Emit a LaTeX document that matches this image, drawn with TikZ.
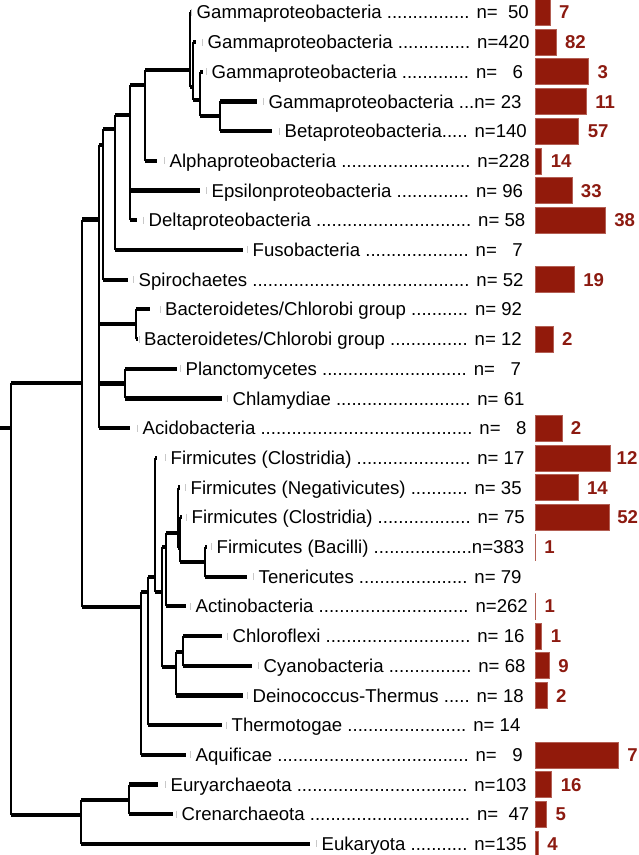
\documentclass[tikz,border=0pt]{standalone}
\usepackage{fontspec}
\setmainfont{Liberation Sans}
\usepackage{xcolor}
\usetikzlibrary{positioning}
\definecolor{barred}{HTML}{921A0B}
\definecolor{countred}{HTML}{8C1A10}
\definecolor{markgray}{HTML}{C8C8C8}
\tikzset{
  branch/.style   = {line width=4.2pt, draw=black},
  riser/.style    = {line width=2pt, draw=black},
  leafmark/.style = {draw=markgray, line width=1pt},
  taxon/.style    = {anchor=west, inner sep=0pt, text height=13.2pt, text depth=0pt,
                     font=\fontsize{18.6pt}{22pt}\selectfont},
  ratebar/.style  = {anchor=west, inner sep=0pt, outer sep=0pt, minimum height=26pt,
                     fill=barred, draw=barred!70!white, line width=0.5pt},
  hitcount/.style = {inner sep=0pt, text height=13.2pt, text depth=0pt, text=countred,
                     font=\fontsize{18.6pt}{22pt}\selectfont\bfseries},
}
\newcommand{\twig}[2]{%
  \draw[riser] (#1) -- (#1 |- #2);
  \draw[branch] (#1 |- #2) -- (#2);}

\begin{document}
\begin{tikzpicture}[x=1pt, y=-1pt]
    \useasboundingbox (0,0) rectangle (638,855);
    % leaf tips
    \coordinate (gam1)   at (191,12.3);
    \coordinate (gam2)   at (196,42.0);
    \coordinate (gam3)   at (203,71.7);
    \coordinate (gam4)   at (257,101.4);
    \coordinate (beta)   at (272,131.1);
    \coordinate (alpha)  at (157,160.8);
    \coordinate (eps)    at (200,190.5);
    \coordinate (delta)  at (137,220.2);
    \coordinate (fuso)   at (243,249.9);
    \coordinate (spiro)  at (128,279.6);
    \coordinate (bac1)   at (150,309.3);
    \coordinate (bac2)   at (137.5,339.0);
    \coordinate (planc)  at (177,368.7);
    \coordinate (chlam)  at (222,398.4);
    \coordinate (acido)  at (130,428.1);
    \coordinate (firc1)  at (157,457.8);
    \coordinate (firn)   at (179.5,487.5);
    \coordinate (firc2)  at (182,517.2);
    \coordinate (firb)   at (207,546.9);
    \coordinate (tener)  at (247,576.6);
    \coordinate (actino) at (186,606.3);
    \coordinate (chloro) at (222,636.0);
    \coordinate (cyano)  at (252,665.7);
    \coordinate (deino)  at (243,695.4);
    \coordinate (thermo) at (222,725.1);
    \coordinate (aquif)  at (186,754.8);
    \coordinate (eury)   at (158,784.5);
    \coordinate (cren)   at (173,814.2);
    \coordinate (euk)    at (310,843.9);
    % inner nodes, where the stem meets them
    \coordinate (gA)   at (220,116.3);
    \coordinate (gB)   at (200,100);
    \coordinate (gC)   at (193,87);
    \coordinate (gD)   at (190,70);
    \coordinate (pE)   at (145,85);
    \coordinate (pF)   at (130,115);
    \coordinate (nG)   at (115,129);
    \coordinate (nH)   at (103,145);
    \coordinate (nBC)  at (136,324.2);
    \coordinate (nPC)  at (125,383.5);
    \coordinate (nI)   at (99,219.5);
    \coordinate (nK)   at (82,383);
    \coordinate (nL)   at (141,607);
    \coordinate (nM)   at (148,592);
    \coordinate (nN)   at (155,577);
    \coordinate (nO)   at (162,592);
    \coordinate (nP)   at (166,547);
    \coordinate (nQ)   at (178,533);
    \coordinate (nQQ)  at (180,548);
    \coordinate (nR)   at (205,562);
    \coordinate (nS)   at (176,667);
    \coordinate (nT)   at (183,652);
    \coordinate (nV)   at (129,800);
    \coordinate (nU)   at (81,815);
    \coordinate (root) at (11,428);
    \coordinate (base) at (0,428);

    % branches
    \twig{gA}{gam4} \twig{gA}{beta}
    \twig{gB}{gam3} \twig{gB}{gA}
    \twig{gC}{gam2} \twig{gC}{gB}
    \twig{gD}{gam1} \twig{gD}{gC}
    \twig{pE}{gD} \twig{pE}{alpha}
    \twig{pF}{pE} \twig{pF}{eps} \twig{pF}{delta}
    \twig{nG}{pF} \twig{nG}{fuso}
    \twig{nH}{nG} \twig{nH}{spiro}
    \twig{nBC}{bac1} \twig{nBC}{bac2}
    \twig{nPC}{planc} \twig{nPC}{chlam}
    \twig{nI}{nH} \twig{nI}{nBC} \twig{nI}{nPC} \twig{nI}{acido}
    \twig{nK}{nI} \twig{nK}{nL}
    \twig{nL}{nM} \twig{nL}{aquif}
    \twig{nM}{nN} \twig{nM}{thermo}
    \twig{nN}{firc1} \twig{nN}{nO}
    \twig{nO}{nP} \twig{nO}{nS}
    \twig{nP}{nQ} \twig{nP}{actino}
    \twig{nQ}{firn} \twig{nQ}{nQQ}
    \twig{nQQ}{firc2} \twig{nQQ}{nR}
    \twig{nR}{firb} \twig{nR}{tener}
    \twig{nS}{nT} \twig{nS}{deino}
    \twig{nT}{chloro} \twig{nT}{cyano}
    \twig{nV}{eury} \twig{nV}{cren}
    \twig{nU}{nV} \twig{nU}{euk}
    \twig{root}{nK} \twig{root}{nU}
    \draw[branch] (base) -- (root);

    % taxon labels
    \node[taxon] (gam1-t)   at (196.5,12.3)  {Gammaproteobacteria ................ n=~~50};
    \node[taxon] (gam2-t)   at (207.5,42.0)  {Gammaproteobacteria .............. n=420};
    \node[taxon] (gam3-t)   at (211.5,71.7)  {Gammaproteobacteria ............. n=~~~6};
    \node[taxon] (gam4-t)   at (268.5,101.4) {Gammaproteobacteria ...n= 23};
    \node[taxon] (beta-t)   at (284.5,131.1) {Betaproteobacteria..... n=140};
    \node[taxon] (alpha-t)  at (169.5,160.8) {Alphaproteobacteria ......................... n=228};
    \node[taxon] (eps-t)    at (211.5,190.5) {Epsilonproteobacteria .............. n= 96};
    \node[taxon] (delta-t)  at (148.5,220.2) {Deltaproteobacteria .............................. n= 58};
    \node[taxon] (fuso-t)   at (252.5,249.9) {Fusobacteria .................... n=~~~7};
    \node[taxon] (spiro-t)  at (138.5,279.6) {Spirochaetes .......................................... n= 52};
    \node[taxon] (bac1-t)   at (165,309.3)   {Bacteroidetes/Chlorobi group ........... n= 92};
    \node[taxon] (bac2-t)   at (144,339.0)   {Bacteroidetes/Chlorobi group ............... n= 12};
    \node[taxon] (planc-t)  at (185.5,368.7) {Planctomycetes ............................ n=~~~7};
    \node[taxon] (chlam-t)  at (232.5,398.4) {Chlamydiae .......................... n= 61};
    \node[taxon] (acido-t)  at (142.5,428.1) {Acidobacteria ......................................... n=~~~8};
    \node[taxon] (firc1-t)  at (170.5,457.8) {Firmicutes (Clostridia) ...................... n= 17};
    \node[taxon] (firn-t)   at (190.5,487.5) {Firmicutes (Negativicutes) ........... n= 35};
    \node[taxon] (firc2-t)  at (191.5,517.2) {Firmicutes (Clostridia) .................. n= 75};
    \node[taxon] (firb-t)   at (216.5,546.9) {Firmicutes (Bacilli) ...................n=383};
    \node[taxon] (tener-t)  at (258.5,576.6) {Tenericutes ..................... n= 79};
    \node[taxon] (actino-t) at (195.5,606.3) {Actinobacteria ............................. n=262};
    \node[taxon] (chloro-t) at (232.5,636.0) {Chloroflexi ............................ n= 16};
    \node[taxon] (cyano-t)  at (263.5,665.7) {Cyanobacteria ................ n= 68};
    \node[taxon] (deino-t)  at (252.5,695.4) {Deinococcus-Thermus ..... n= 18};
    \node[taxon] (thermo-t) at (231.5,725.1) {Thermotogae ....................... n= 14};
    \node[taxon] (aquif-t)  at (195.5,754.8) {Aquificae ..................................... n=~~~9};
    \node[taxon] (eury-t)   at (170.5,784.5) {Euryarchaeota ................................. n=103};
    \node[taxon] (cren-t)   at (181.5,814.2) {Crenarchaeota ............................... n=~~47};
    \node[taxon] (euk-t)    at (321.5,843.9) {Eukaryota ........... n=135};

    % leaf marks
    \foreach \t in {gam1,gam2,gam3,gam4,beta,alpha,eps,delta,fuso,spiro,bac1,bac2,planc,chlam,
                    acido,firc1,firn,firc2,firb,tener,actino,chloro,cyano,deino,thermo,aquif,eury,cren,euk}
      \draw[leafmark] ([xshift=-5pt]\t-t.west) ++(0,-3.5) -- ++(0,7);

    % bars and counts
    \node[ratebar, minimum width=107*7/50]   (gam1-r)   at (535,12.3)  {};
    \node[hitcount, right=9pt of gam1-r]     (gam1-c)   {7};
    \node[ratebar, minimum width=107*82/420] (gam2-r)   at (535,42.0)  {};
    \node[hitcount, right=9pt of gam2-r]     (gam2-c)   {82};
    \node[ratebar, minimum width=107*3/6]    (gam3-r)   at (535,71.7)  {};
    \node[hitcount, right=9pt of gam3-r]     (gam3-c)   {3};
    \node[ratebar, minimum width=107*11/23]  (gam4-r)   at (535,101.4) {};
    \node[hitcount, right=9pt of gam4-r]     (gam4-c)   {11};
    \node[ratebar, minimum width=107*57/140] (beta-r)   at (535,131.1) {};
    \node[hitcount, right=9pt of beta-r]     (beta-c)   {57};
    \node[ratebar, minimum width=107*14/228] (alpha-r)  at (535,160.8) {};
    \node[hitcount, right=9pt of alpha-r]    (alpha-c)  {14};
    \node[ratebar, minimum width=107*33/96]  (eps-r)    at (535,190.5) {};
    \node[hitcount, right=9pt of eps-r]      (eps-c)    {33};
    \node[ratebar, minimum width=107*38/58]  (delta-r)  at (535,220.2) {};
    \node[hitcount, right=9pt of delta-r]    (delta-c)  {38};
    \node[ratebar, minimum width=107*19/52]  (spiro-r)  at (535,279.6) {};
    \node[hitcount, right=9pt of spiro-r]    (spiro-c)  {19};
    \node[ratebar, minimum width=107*2/12]   (bac2-r)   at (535,339.0) {};
    \node[hitcount, right=9pt of bac2-r]     (bac2-c)   {2};
    \node[ratebar, minimum width=107*2/8]    (acido-r)  at (535,428.1) {};
    \node[hitcount, right=9pt of acido-r]    (acido-c)  {2};
    \node[ratebar, minimum width=107*12/17]  (firc1-r)  at (535,457.8) {};
    \node[hitcount, right=6pt of firc1-r]    (firc1-c)  {12};
    \node[ratebar, minimum width=107*14/35]  (firn-r)   at (535,487.5) {};
    \node[hitcount, right=9pt of firn-r]     (firn-c)   {14};
    \node[ratebar, minimum width=107*52/75]  (firc2-r)  at (535,517.2) {};
    \node[hitcount, right=8pt of firc2-r]    (firc2-c)  {52};
    \node[ratebar, minimum width=107*1/383]  (firb-r)   at (535,546.9) {};
    \node[hitcount, right=9pt of firb-r]     (firb-c)   {1};
    \node[ratebar, minimum width=107*1/262]  (actino-r) at (535,606.3) {};
    \node[hitcount, right=9pt of actino-r]   (actino-c) {1};
    \node[ratebar, minimum width=107*1/16]   (chloro-r) at (535,636.0) {};
    \node[hitcount, right=9pt of chloro-r]   (chloro-c) {1};
    \node[ratebar, minimum width=107*9/68]   (cyano-r)  at (535,665.7) {};
    \node[hitcount, right=9pt of cyano-r]    (cyano-c)  {9};
    \node[ratebar, minimum width=107*2/18]   (deino-r)  at (535,695.4) {};
    \node[hitcount, right=9pt of deino-r]    (deino-c)  {2};
    \node[ratebar, minimum width=107*7/9]    (aquif-r)  at (535,754.8) {};
    \node[hitcount, right=9pt of aquif-r]    (aquif-c)  {7};
    \node[ratebar, minimum width=107*16/103] (eury-r)   at (535,784.5) {};
    \node[hitcount, right=9pt of eury-r]     (eury-c)   {16};
    \node[ratebar, minimum width=107*5/47]   (cren-r)   at (535,814.2) {};
    \node[hitcount, right=9pt of cren-r]     (cren-c)   {5};
    \node[ratebar, minimum width=107*4/135]  (euk-r)    at (535,843.9) {};
    \node[hitcount, right=9pt of euk-r]      (euk-c)    {4};
\end{tikzpicture}
\end{document}
